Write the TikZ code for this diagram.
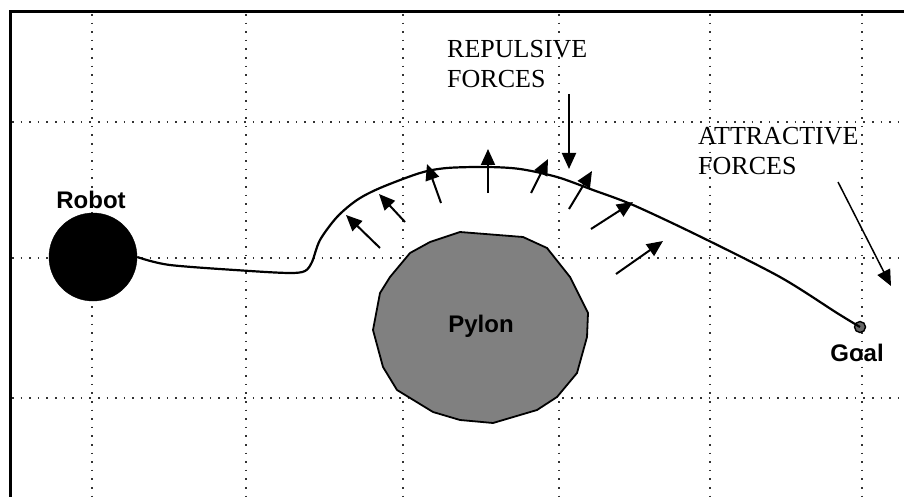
\documentclass[tikz,border=0pt]{standalone}
\usepackage{fontspec}
\setmainfont{Liberation Serif}
\newfontfamily\lblsans{Liberation Sans}
\usetikzlibrary{arrows.meta}
\begin{document}
\begin{tikzpicture}[x=1pt,y=-1pt,
  gridline/.style={black!80,line width=1.6pt,dash pattern=on 1.6pt off 7pt},
  frameline/.style={black,line width=3pt},
  force/.style={black,line width=2pt,-{Triangle[length=16pt,width=14pt]}},
  thinforce/.style={black,line width=1.5pt,-{Triangle[length=16pt,width=14pt]}},
  trajectory/.style={black,line width=2.2pt},
  serifLabel/.style={font=\fontsize{26}{30}\selectfont,align=left,inner sep=0pt,anchor=north west},
  sansLabel/.style={font=\lblsans\bfseries\fontsize{24}{28}\selectfont,inner sep=0pt,anchor=base}]
\useasboundingbox (0,0) rectangle (904,497);
\fill[white] (0,0) rectangle (904,497);
% grid
\foreach \gx in {92,246,403,559,710,862}
  \draw[gridline] (\gx,14) -- (\gx,497);
\foreach \gy in {122,258,398}
  \draw[gridline] (12,\gy) -- (904,\gy);
% frame
\draw[frameline] (10,497) -- (10,12) -- (904,12);
% robot
\node[circle,fill=black,draw=black,minimum size=88pt,inner sep=0pt] (robot) at (93,257) {};
\node[sansLabel] (robotlbl) at (91,208) {Robot};
% pylon
\filldraw[fill=black!50,draw=black,line width=1.8pt]
  (460,232) -- (523,237) -- (547,248) -- (570,277) -- (588,313) -- (587,337) -- (577,373)
  -- (557,397) -- (537,410) -- (493,423) -- (460,420) -- (433,412) -- (397,390)
  -- (383,367) -- (373,330) -- (380,293) -- (390,277) -- (410,253) -- (430,242) -- cycle;
\node[sansLabel] (pylonlbl) at (481,332) {Pylon};
% goal
\node[circle,fill=black!60,draw=black,line width=1.4pt,minimum size=11pt,inner sep=0pt] (goal) at (860,327) {};
\node[sansLabel] (goallbl) at (857,361) {Goal};
% trajectory
\draw[trajectory] plot[smooth,tension=0.5] coordinates {(robot.east) (170,265) (250,271) (290,273) (305,271) (312,262) (320,240) (337,217) (357,200) (380,188) (420,173) (447,168) (487,167) (520,169) (557,177) (593,190) (633,205) (697,235) (780,277) (837,313) (goal.center)};
% repulsive forces
\coordinate (r1t) at (380,248); \coordinate (r1h) at (346,215);
\coordinate (r2t) at (405,222); \coordinate (r2h) at (379,194);
\coordinate (r3t) at (441,203); \coordinate (r3h) at (427,164);
\coordinate (r4t) at (488,193); \coordinate (r4h) at (488,149);
\coordinate (r5t) at (531,193); \coordinate (r5h) at (548,159);
\coordinate (r6t) at (569,209); \coordinate (r6h) at (592,171);
\coordinate (r7t) at (591,229); \coordinate (r7h) at (633,202);
\coordinate (r8t) at (616,274); \coordinate (r8h) at (663,241);
\foreach \k in {1,...,8}
  \draw[force] (r\k t) -- (r\k h);
% labels
\node[serifLabel] (replbl) at (447,40) {REPULSIVE\\FORCES};
\coordinate (reppt) at (569,94); \coordinate (repend) at (569,169);
\draw[force] (reppt) -- (repend);
\node[serifLabel] (attlbl) at (698,127) {ATTRACTIVE\\FORCES};
\coordinate (attpt) at (838,182); \coordinate (attend) at (891,286);
\draw[thinforce] (attpt) -- (attend);
\end{tikzpicture}
\end{document}
